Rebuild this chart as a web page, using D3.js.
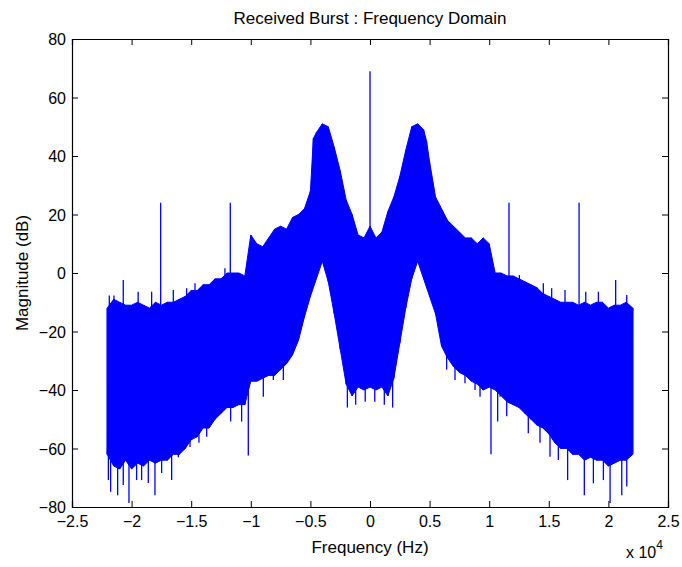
<!DOCTYPE html>
<html><head><meta charset="utf-8">
<script src="https://cdn.jsdelivr.net/npm/d3@7"></script>
<style>
body{margin:0;background:#fff;}
text{font-family:"Liberation Sans",Arial,Helvetica,sans-serif;fill:#000;}
</style></head>
<body><div id="chart"></div>
<script>
// ---- data ----
const title = "Received Burst : Frequency Domain";
const xLabel = "Frequency (Hz)";
const yLabel = "Magnitude (dB)";
const xTicks = [-25000,-20000,-15000,-10000,-5000,0,5000,10000,15000,20000,25000];
const yTicks = [-80,-60,-40,-20,0,20,40,60,80];

// frequency bins (Hz)
const freq = [-22050,-21500,-21000,-20500,-20000,-19500,-19000,-18500,-18000,-17500,-17000,-16500,-16000,-15500,-15000,-14500,-14000,-13500,-13000,-12500,-12000,-11500,-11000,-10500,-10000,-9500,-9000,-8500,-8000,-7500,-7000,-6500,-6000,-5500,-5000,-4750,-4500,-4000,-3500,-3000,-2500,-2000,-1500,-1000,-500,0,500,1000,1500,2000,2500,3000,3500,4000,4500,4750,5000,5500,6000,6500,7000,7500,8000,8500,9000,9500,10000,10500,11000,11500,12000,12500,13000,13500,14000,14500,15000,15500,16000,16500,17000,17500,18000,18500,19000,19500,20000,20500,21000,21500,22050];
// upper envelope of the dense spectrum (dB)
const magHigh = [-12,-9,-10,-11,-11,-10,-11,-12,-10,-11,-10,-10,-9,-8,-6,-6,-4,-4,-2,-2,0,0,0,-1,13,10,9,12,15,16,15,19,20,22,28,46,48,51,50,43,35,25,20,13,12,16,12,14,21,26,33,42,50,51,49,45,38,26,22,18,16,14,12,12,10,12,10,0,0,-1,-1,-2,-3,-4,-5,-7,-8,-9,-10,-10,-10,-11,-10,-11,-10,-10,-12,-11,-11,-10,-12];
// lower envelope of the dense spectrum (dB)
const magLow = [-62,-66,-67,-64,-67,-65,-66,-64,-65,-64,-64,-62,-62,-60,-57,-56,-53,-53,-50,-48,-46,-46,-45,-45,-37,-37,-36,-35,-35,-33,-31,-28,-23,-15,-8,-5,-2,4,-3,-14,-26,-38,-42,-39,-40,-39,-40,-39,-42,-36,-24,-12,-2,4,-2,-5,-8,-14,-25,-29,-32,-34,-35,-37,-38,-40,-39,-40,-42,-44,-45,-46,-48,-50,-52,-53,-55,-58,-60,-60,-62,-62,-64,-63,-64,-64,-66,-65,-64,-64,-62];
// isolated spectral lines reaching above the envelope
const spikeFreq = [0,-17560,-11720,11660,17540,-20700,20610,-21870,-21480,-19450,-18320,-16500,-15380,-14680,-12170,12530,14540,15240,16360,18100,19160,21540];
const spikeMag  = [69,24,24,24,24,-2.4,-2.4,-7.7,-7.7,-6.4,-6.4,-5.8,-5.2,-3.5,1.6,-0.7,-3.5,-5.2,-5.8,-6.4,-6.4,-7.5];
// isolated dips reaching below the envelope
const dipFreq = [-21950,-21760,-21170,-20700,-20220,-19580,-19160,-18600,-18040,-17480,-16640,-16080,-15100,-14350,-13700,-12730,-11690,-10770,-10210,-8950,-8110,-7270,-1900,-1200,-400,400,1200,1900,6430,7130,7970,8810,9230,10150,10710,10910,11470,13280,14260,15100,15800,16580,17980,18740,19580,20140,21120,21540];
const dipMag  = [-70.8,-74.8,-76,-72.5,-78.6,-70.8,-70.8,-71.8,-76,-68.4,-70.8,-63,-59.5,-58,-56,-47.4,-50.8,-50.8,-62.4,-42.3,-36.6,-36.6,-46,-45,-44,-44,-45,-46,-33,-36.6,-37.7,-40,-42.3,-62,-50.8,-42.3,-49,-54.8,-58,-62.8,-63.9,-70.8,-76,-71.9,-70.8,-78.6,-76,-73];

// ---- layout ----
const W = 682, H = 567;
const m = {left:72, top:39, right:14, bottom:60};
const iw = W - m.left - m.right, ih = H - m.top - m.bottom;
const svg = d3.select("#chart").append("svg").attr("width",W).attr("height",H);
const g = svg.append("g").attr("transform",`translate(${m.left},${m.top})`);

const x = d3.scaleLinear().domain([-25000,25000]).range([0,iw]);
const y = d3.scaleLinear().domain([-80,80]).range([ih,0]);
const blue = "#0000ff";

const data = freq.map((f,i)=>({f, hi:magHigh[i], lo:magLow[i]}));
g.append("clipPath").attr("id","clip").append("rect").attr("width",iw).attr("height",ih);
const plot = g.append("g").attr("clip-path","url(#clip)");

// dense band of the spectrum
plot.append("path").datum(data)
  .attr("d", d3.area().x(d=>x(d.f)).y0(d=>y(d.lo)).y1(d=>y(d.hi)))
  .attr("fill", blue).attr("stroke", blue).attr("stroke-width",1);

// zig-zag trace between the envelope extremes
const zz = [];
data.forEach(d=>{ zz.push([d.f,d.hi]); zz.push([d.f,d.lo]); });
plot.append("path").datum(zz)
  .attr("d", d3.line().x(d=>x(d[0])).y(d=>y(d[1])))
  .attr("fill","none").attr("stroke",blue).attr("stroke-width",1);

// vertical excursions of the trace (lines and dips)
const bandMid = d3.scaleLinear().domain(freq).range(freq.map((f,i)=>(magHigh[i]+magLow[i])/2));
plot.selectAll("line.spike").data(spikeFreq).join("line").attr("class","spike")
  .attr("x1",f=>x(f)).attr("x2",f=>x(f))
  .attr("y1",(f,i)=>y(spikeMag[i])).attr("y2",f=>y(bandMid(f)))
  .attr("stroke",blue).attr("stroke-width",1.3);
plot.selectAll("line.dip").data(dipFreq).join("line").attr("class","dip")
  .attr("x1",f=>x(f)).attr("x2",f=>x(f))
  .attr("y1",(f,i)=>y(dipMag[i])).attr("y2",f=>y(bandMid(f)))
  .attr("stroke",blue).attr("stroke-width",1.3);

// ---- axes (MATLAB style box, inward ticks) ----
const fs = 16;
const fmtX = d=> d3.format("")(d/10000);
const axB = g.append("g").attr("transform",`translate(0,${ih})`)
  .call(d3.axisBottom(x).tickValues(xTicks).tickSize(-6).tickPadding(6).tickFormat(fmtX));
const axT = g.append("g")
  .call(d3.axisTop(x).tickValues(xTicks).tickSize(-6).tickFormat(""));
const axL = g.append("g")
  .call(d3.axisLeft(y).tickValues(yTicks).tickSize(-6).tickPadding(6));
const axR = g.append("g").attr("transform",`translate(${iw},0)`)
  .call(d3.axisRight(y).tickValues(yTicks).tickSize(-6).tickFormat(""));
[axB,axT,axL,axR].forEach(a=>{
  a.select(".domain").attr("stroke","#000").attr("stroke-width",1.2);
  a.selectAll(".tick line").attr("stroke","#000");
  a.selectAll("text").attr("font-size",fs).attr("font-family","Liberation Sans, Arial, sans-serif").attr("fill","#000");
});
axB.selectAll("text").attr("dy","0.9em");
axL.selectAll("text").attr("dy","0.35em");

svg.append("text").attr("x", m.left+iw/2).attr("y", 24).attr("text-anchor","middle")
  .attr("font-size",17).text(title);
svg.append("text").attr("x", m.left+iw/2).attr("y", 553).attr("text-anchor","middle")
  .attr("font-size",17).text(xLabel);
svg.append("text").attr("transform",`translate(28,${m.top+ih/2}) rotate(-90)`).attr("text-anchor","middle")
  .attr("font-size",17).text(yLabel);
const ex = svg.append("text").attr("x", 626).attr("y", 558).attr("font-size",fs);
ex.append("tspan").text("x 10");
ex.append("tspan").attr("dy",-9).attr("font-size",12).text("4");
</script></body></html>
